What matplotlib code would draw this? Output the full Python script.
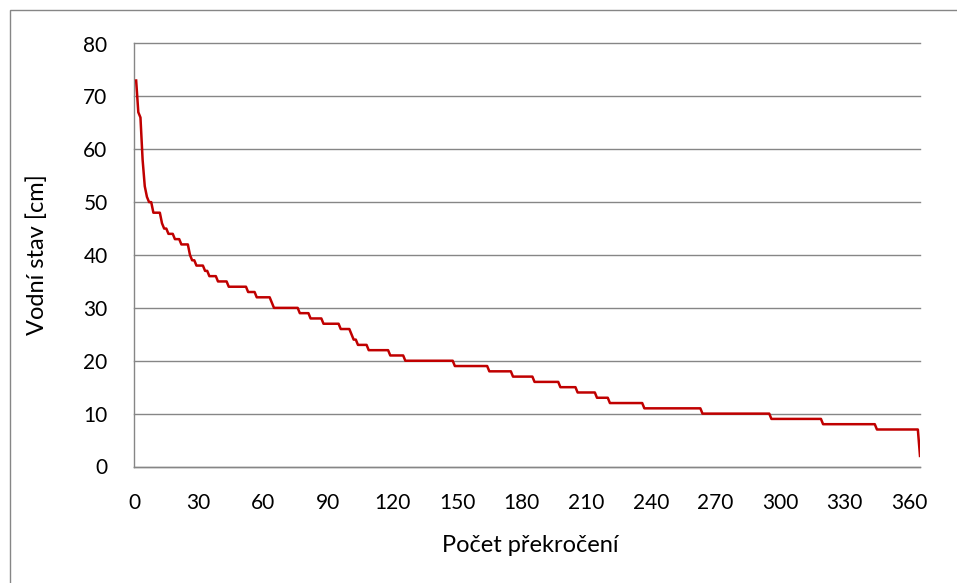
"""Duration curve of water levels (čára překročení vodních stavů)."""

import matplotlib

matplotlib.use("Agg")
import matplotlib.pyplot as plt
import numpy as np
from matplotlib.patches import Rectangle

# Water level [cm] and the number of days it occurs (sorted from highest).
LEVELS = [73, 67, 66, 58, 53, 51, 50, 48, 46, 45, 44, 43, 42, 40, 39, 38, 37,
          36, 35, 34, 33, 32, 31, 30, 29, 28, 27, 26, 25, 24, 23, 22, 21, 20,
          19, 18, 17, 16, 15, 14, 13, 12, 11, 10, 9, 8, 7, 2]
DAYS = [1, 1, 1, 1, 1, 1, 2, 4, 1, 2, 3, 3, 4, 1, 2, 4, 2,
        4, 5, 9, 4, 7, 1, 12, 5, 6, 8, 5, 1, 2, 5, 10, 7, 23,
        16, 11, 10, 12, 8, 9, 6, 16, 27, 32, 24, 25, 20, 1]

X_TICKS = list(range(0, 361, 30))
Y_TICKS = list(range(0, 81, 10))

LINE_COLOR = "#C00000"
GRID_COLOR = "#868686"
FONT = ["Lato", "DejaVu Sans"]


def main() -> None:
    plt.rcParams["font.family"] = FONT

    values = np.repeat(LEVELS, DAYS)
    exceedance = np.arange(1, len(values) + 1)

    fig = plt.figure(figsize=(9.57, 5.83), dpi=100)
    fig.patches.append(
        Rectangle((10 / 957, -0.01), 1.0, 1 - 10 / 583 + 0.01,
                  transform=fig.transFigure, fill=False,
                  edgecolor=GRID_COLOR, linewidth=1.0)
    )
    ax = fig.add_axes([134 / 957, 1 - 466.5 / 583, 786 / 957, 423 / 583])

    ax.plot(exceedance, values, color=LINE_COLOR, linewidth=1.8,
            solid_joinstyle="round", zorder=3)

    ax.set_xlim(0, 365)
    ax.set_ylim(0, 80)
    ax.set_xticks(X_TICKS)
    ax.set_yticks(Y_TICKS)
    ax.yaxis.grid(True, color=GRID_COLOR, linewidth=1.0)
    ax.set_axisbelow(True)
    for line in ax.get_ygridlines():
        line.set_clip_on(False)

    for side in ("top", "right"):
        ax.spines[side].set_visible(False)
    for side in ("left", "bottom"):
        ax.spines[side].set_color(GRID_COLOR)
        ax.spines[side].set_linewidth(1.0)

    ax.tick_params(axis="y", length=0, pad=19, labelsize=15)
    ax.tick_params(axis="x", length=0, pad=19, labelsize=15)

    ax.set_ylabel("Vodní stav [cm]", fontsize=17)
    ax.set_xlabel("Počet překročení", fontsize=17)
    ax.yaxis.set_label_coords(-0.109, 0.5)
    ax.xaxis.set_label_coords(0.504, -0.162)

    fig.savefig("out.png", dpi=100)
    plt.close(fig)


if __name__ == "__main__":
    main()
